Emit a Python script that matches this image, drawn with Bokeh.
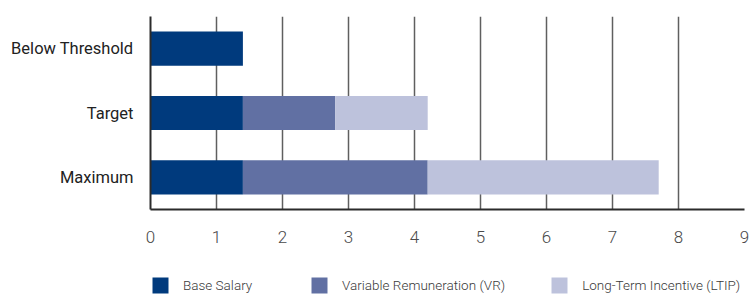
from bokeh.plotting import figure
from bokeh.layouts import column
from bokeh.models import FactorRange, Range1d, FixedTicker, Legend, LegendItem, ColumnDataSource
from bokeh.embed import file_html
from bokeh.resources import INLINE

categories = ["Below Threshold", "Target", "Maximum"]
base_salary = [1.4, 1.4, 1.4]
variable_rem = [0.0, 1.4, 2.8]
ltip = [0.0, 1.4, 3.5]
series_names = ["Base Salary", "Variable Remuneration (VR)", "Long-Term Incentive (LTIP)"]
series_keys = ["base", "vr", "ltip"]
colors = ["#003A7D", "#6170A3", "#BDC2DC"]
x_ticks = [0, 1, 2, 3, 4, 5, 6, 7, 8, 9]

FONT = "Roboto"
LIGHT = "Roboto Light, Roboto"

source = ColumnDataSource(dict(cat=categories, base=base_salary, vr=variable_rem, ltip=ltip))

p = figure(
    width=749, height=260,
    y_range=FactorRange(*list(reversed(categories))),
    x_range=Range1d(0, 9),
    output_backend="svg", toolbar_location=None,
    min_border_left=150, min_border_right=5, min_border_top=16, min_border_bottom=51,
)
p.outline_line_color = None

p.hbar_stack(series_keys, y="cat", height=0.53, color=colors,
             source=source, line_color=None)

# axes
p.xaxis.ticker = FixedTicker(ticks=x_ticks)
p.xaxis.major_tick_line_color = None
p.xaxis.minor_tick_line_color = None
p.xaxis.axis_line_color = "#2b2b2b"
p.xaxis.axis_line_width = 2
p.xaxis.major_label_standoff = 15
p.xaxis.major_label_text_font = LIGHT
p.xaxis.major_label_text_font_size = "17px"
p.xaxis.major_label_text_color = "#4a4a4a"

p.yaxis.major_tick_line_color = None
p.yaxis.minor_tick_line_color = None
p.yaxis.axis_line_color = "#2b2b2b"
p.yaxis.axis_line_width = 2
p.yaxis.major_label_standoff = 11
p.yaxis.major_label_text_font = FONT
p.yaxis.major_label_text_font_size = "16.5px"
p.yaxis.major_label_text_color = "#222222"

p.ygrid.grid_line_color = None
p.xgrid.ticker = FixedTicker(ticks=x_ticks)
p.xgrid.grid_line_color = "#5f5f5f"
p.xgrid.grid_line_width = 1.5

# legend strip (its own small figure; swatches come from off-view helper quads)
pl = figure(
    width=749, height=35,
    y_range=Range1d(0, 1), x_range=Range1d(0, 1),
    output_backend="svg", toolbar_location=None,
    x_axis_location=None, y_axis_location=None,
    min_border_left=145, min_border_right=0, min_border_top=0, min_border_bottom=0,
)
pl.outline_line_color = None
pl.grid.visible = False
leg_renderers = [pl.quad(left=[5], right=[6], top=[6], bottom=[5], fill_color=c, line_color=None)
                 for c in colors]

legend = Legend(items=[LegendItem(label=n, renderers=[r]) for r, n in zip(leg_renderers, series_names)],
                location=(0, 0), orientation="horizontal", nrows=1,
                glyph_width=20, glyph_height=20, label_height=20, label_width=82,
                label_standoff=13, padding=0, margin=0, spacing=44,
                border_line_alpha=0, background_fill_alpha=0,
                label_text_font=LIGHT, label_text_font_size="13.5px",
                label_text_color="#3a3a3a")
pl.add_layout(legend, "center")

open("out.html", "w").write(file_html(column(p, pl), INLINE))
